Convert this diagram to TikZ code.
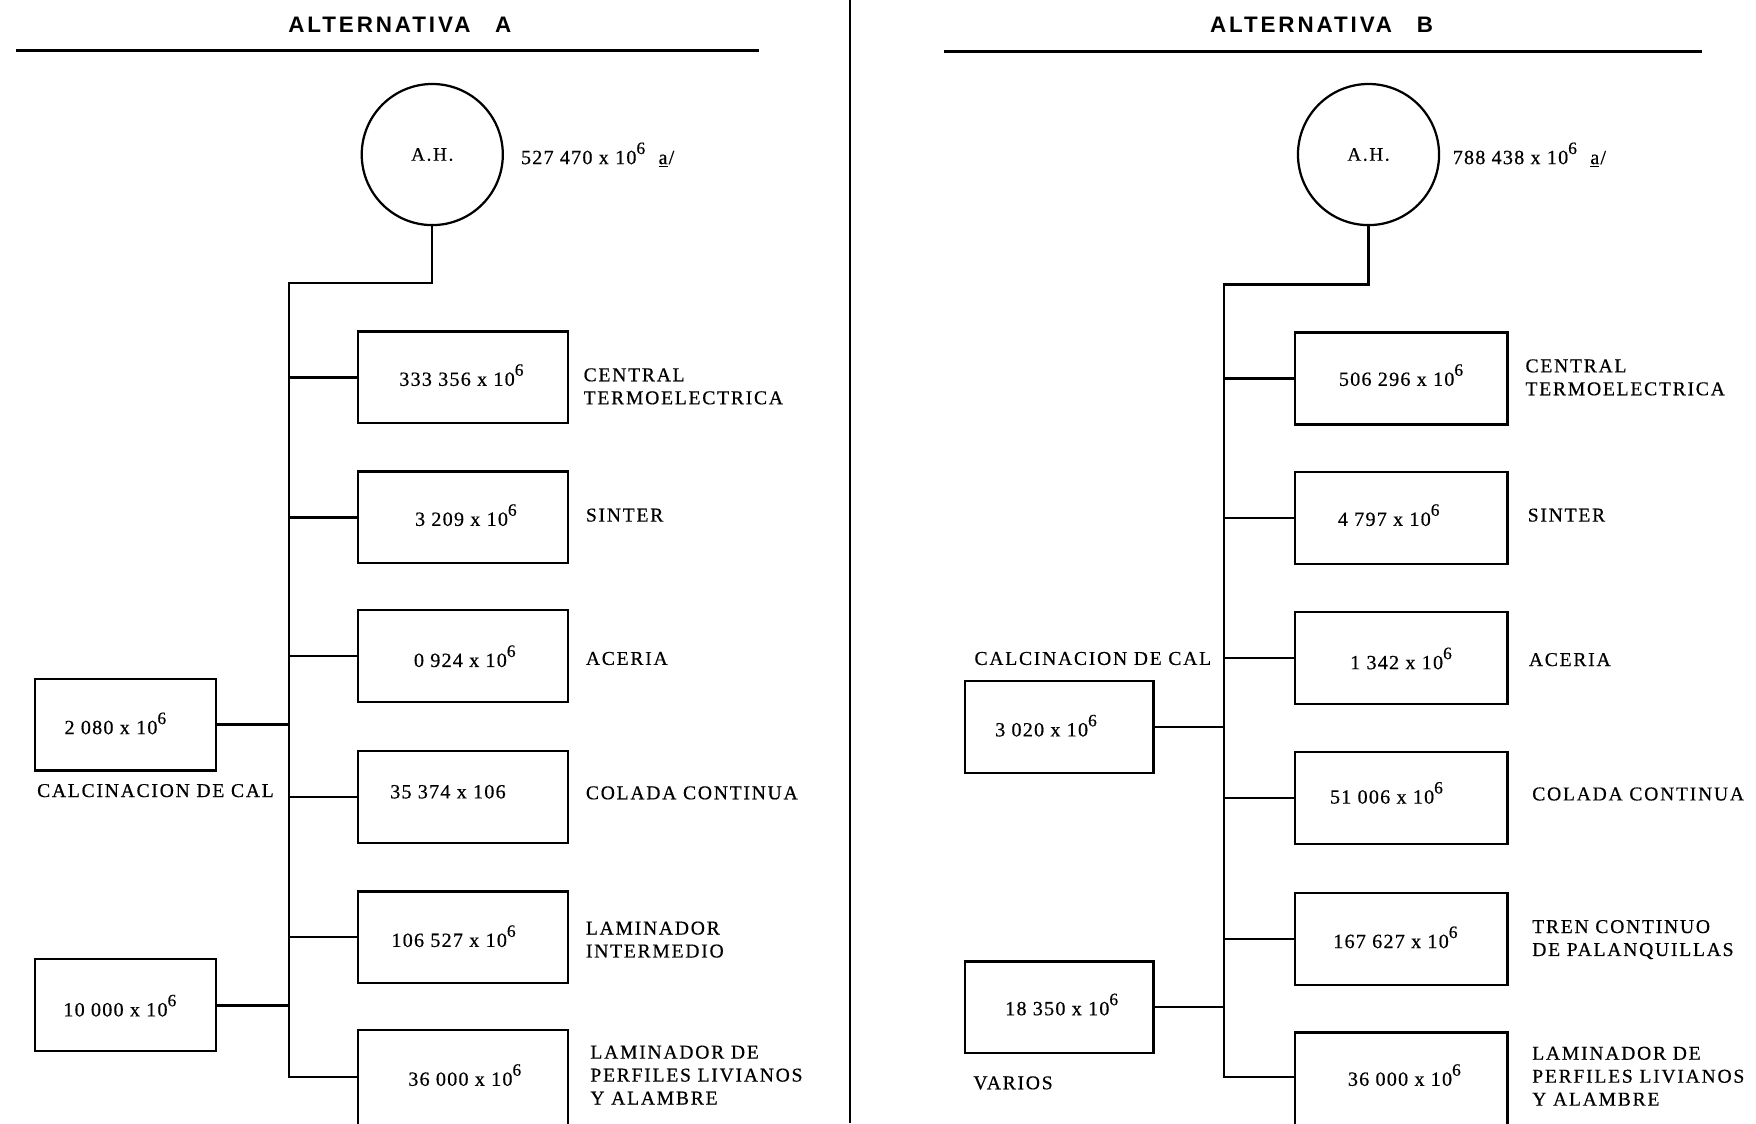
\documentclass[tikz,border=0pt]{standalone}
\usepackage{fontspec}
\setmainfont{Liberation Serif}
\newfontfamily\lblfont{Liberation Serif}[LetterSpace=9,FakeBold=0.5]
\newfontfamily\numfont{Liberation Serif}[LetterSpace=6,FakeBold=0.5]
\newfontfamily\ttlfont{Liberation Sans}[LetterSpace=13]
\newcommand\tensix{10\raisebox{0.5em}{\fontsize{15.5}{15.5}\selectfont 6}}
\begin{document}
\begin{tikzpicture}[x=1pt,y=-1pt,
  ttl/.style={font=\ttlfont\bfseries\fontsize{20}{20}\selectfont, inner sep=0pt},
  rulel/.style={line width=2.4pt},
  ahc/.style={draw, circle, line width=2pt, minimum size=126pt, inner sep=0pt, font=\lblfont\fontsize{17}{17}\selectfont},
  bx/.style={draw, line width=2pt, minimum width=187pt, minimum height=82pt, inner sep=0pt},
  bxr/.style={bx, minimum width=190pt},
  sbx/.style={bx, minimum width=162pt},
  sbxr/.style={bx, minimum width=168pt},
  val/.style={font=\numfont\fontsize{18}{18}\selectfont, inner sep=0pt},
  lbl/.style={font=\lblfont\fontsize{17.5}{20.5}\selectfont, inner sep=0pt, anchor=west, align=left},
  wire/.style={line width=2pt}]
\useasboundingbox (0,0) rectangle (1568,1003);
\clip (0,0) rectangle (1568,1003);
\fill[white] (0,0) rectangle (1568,1003);

% vertical divider between the two alternatives
\draw[line width=2.4pt] (759,0) -- (759,1003);

% ---------------- Alternativa A ----------------
\node[ttl] (tA) at (357,22) {ALTERNATIVA\hspace{22pt}A};
\draw[rulel] (14,45) -- (678,45);
\node[ahc] (ahA) at (386,138) {A.H.};
\node[val, anchor=west] (vA) at (465,138) {527 470 x \tensix\hspace{12pt}\underline{a}\kern1pt/};

\node[bx] (a1) at (413.5,337) {};
\node[bx] (a2) at (413.5,462) {};
\node[bx] (a3) at (413.5,586) {};
\node[bx] (a4) at (413.5,711.5) {};
\node[bx] (a5) at (413.5,837) {};
\node[bx, minimum height=100pt] (a6) at (413.5,970) {};

\node[val] (va1) at (412,335) {333 356 x \tensix};
\node[val] (va2) at (416,460) {3 209 x \tensix};
\node[val] (va3) at (415,586) {0 924 x \tensix};
\node[val] (va4) at (400,707) {35 374 x 106};
\node[val] (va5) at (405,836) {106 527 x \tensix};
\node[val] (va6) at (415,960) {36 000 x \tensix};

\node[lbl] (la1) at (521,345) {CENTRAL\\TERMOELECTRICA};
\node[lbl] (la2) at (523,460) {SINTER};
\node[lbl] (la3) at (523,588) {ACERIA};
\node[lbl] (la4) at (523,708) {COLADA CONTINUA};
\node[lbl] (la5) at (523,839) {LAMINADOR\\INTERMEDIO};
\node[lbl] (la6) at (527,960) {LAMINADOR DE\\PERFILES LIVIANOS\\Y ALAMBRE};

\node[sbx] (ca1) at (112,647) {};
\node[val] (vca1) at (103,646) {2 080 x \tensix};
\node[lbl] (lca1) at (33,706) {CALCINACION DE CAL};
\node[sbx] (ca2) at (112,897.5) {};
\node[val] (vca2) at (107,898) {10 000 x \tensix};

\coordinate (jA) at (258,253);
\coordinate (eA) at (258,962);
\draw[wire] (ahA.south) |- (jA) -- (eA) -- (eA -| a6.west);
\foreach \b in {a1,a2,a3,a4,a5} \draw[wire] (\b.west) -- (\b.west -| jA);
\draw[wire] (ca1.east) -- (ca1.east -| jA);
\draw[wire, line width=2.6pt] (ca2.east) -- (ca2.east -| jA);

% ---------------- Alternativa B ----------------
\node[ttl] (tB) at (1180,22) {ALTERNATIVA\hspace{22pt}B};
\draw[rulel] (843,46) -- (1520,46);
\node[ahc] (ahB) at (1222,138) {A.H.};
\node[val, anchor=west] (vB) at (1297,138) {788 438 x \tensix\hspace{12pt}\underline{a}\kern1pt/};

\node[bxr] (b1) at (1251,338) {};
\node[bxr] (b2) at (1251,462.5) {};
\node[bxr] (b3) at (1251,587.5) {};
\node[bxr] (b4) at (1251,712.5) {};
\node[bxr] (b5) at (1251,838.5) {};
\node[bxr, minimum height=100pt] (b6) at (1251,972) {};

\node[val] (vb1) at (1251,335) {506 296 x \tensix};
\node[val] (vb2) at (1240,460) {4 797 x \tensix};
\node[val] (vb3) at (1251,588) {1 342 x \tensix};
\node[val] (vb4) at (1238,708) {51 006 x \tensix};
\node[val] (vb5) at (1246,837) {167 627 x \tensix};
\node[val] (vb6) at (1254,960) {36 000 x \tensix};

\node[lbl] (lb1) at (1362,337) {CENTRAL\\TERMOELECTRICA};
\node[lbl] (lb2) at (1364,460) {SINTER};
\node[lbl] (lb3) at (1365,589) {ACERIA};
\node[lbl] (lb4) at (1368,709) {COLADA CONTINUA};
\node[lbl] (lb5) at (1368,839) {TREN CONTINUO\\DE PALANQUILLAS};
\node[lbl] (lb6) at (1368,961) {LAMINADOR DE\\PERFILES LIVIANOS\\Y ALAMBRE};

\node[lbl] (lcb1) at (870,588) {CALCINACION DE CAL};
\node[sbxr] (cb1) at (946,649) {};
\node[val] (vcb1) at (934,648) {3 020 x \tensix};
\node[sbxr] (cb2) at (946,899.5) {};
\node[val] (vcb2) at (948,897) {18 350 x \tensix};
\node[lbl] (lcb2) at (869,967) {VARIOS};

\coordinate (jB) at (1093,254);
\coordinate (eB) at (1093,962);
\draw[wire] (ahB.south) |- (jB) -- (eB) -- (eB -| b6.west);
\foreach \b in {b1,b2,b3,b4,b5} \draw[wire] (\b.west) -- (\b.west -| jB);
\draw[wire] (cb1.east) -- (cb1.east -| jB);
\draw[wire] (cb2.east) -- (cb2.east -| jB);
\end{tikzpicture}
\end{document}
